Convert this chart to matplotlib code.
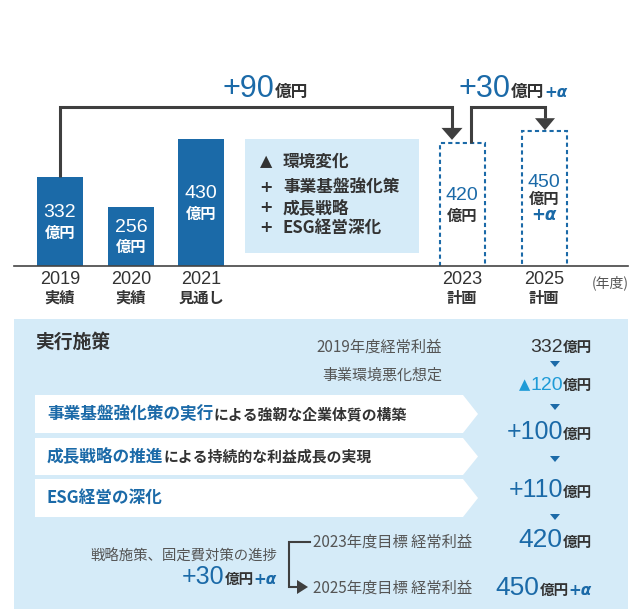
import matplotlib.pyplot as plt
from matplotlib.patches import Polygon, Rectangle
from matplotlib.offsetbox import TextArea, HPacker, AnnotationBbox

plt.rcParams['font.family'] = ['Noto Sans CJK JP', 'DejaVu Sans']

BLUE = '#1b6aa8'
CYAN = '#1e9bd7'
DARK = '#333333'
GRAY = '#555555'
LINE = '#3f3f3f'
LIGHT = '#d5ebf8'
NUM = 'Liberation Sans'

# --- data -------------------------------------------------------------
years = ['2019', '2020', '2021', '2023', '2025']
kinds = ['実績', '実績', '見通し', '計画', '計画']
profits = [332, 256, 430, 420, 450]
planned = [False, False, False, True, True]
bar_x = [60, 131, 201, 462, 544]

factor_signs = ['▲', '+', '+', '+']
factor_labels = ['環境変化', '事業基盤強化策', '成長戦略', 'ESG経営深化']

gain_2023 = 90
gain_2025 = 30

measures_blue = ['事業基盤強化策の実行', '成長戦略の推進', 'ESG経営の深化']
measures_rest = ['による強靭な企業体質の構築', 'による持続的な利益成長の実現', '']
env_drop = 120
step_gains = [100, 110]

# --- layout -----------------------------------------------------------
base = 103      # value at the baseline
k = 0.388       # pixels per value unit
fig = plt.figure(figsize=(6.3, 6.09), dpi=100)
ax = fig.add_axes([0, 343 / 609, 1, 266 / 609])
ax.set_xlim(0, 630)
ax.set_ylim(base, base + 266 / k)
ax.axis('off')

ov = fig.add_axes([0, 0, 1, 1], zorder=5)
ov.set_xlim(0, 630)
ov.set_ylim(609, 0)
ov.axis('off')
ov.patch.set_visible(False)


def rich(x, y, parts, ha='left'):
    areas = [TextArea(s, textprops=pr) for s, pr in parts]
    box = HPacker(children=areas, align='baseline', pad=0, sep=0)
    bx = {'left': 0, 'center': 0.5, 'right': 1}[ha]
    ab = AnnotationBbox(box, (x, y), xycoords='data', box_alignment=(bx, 0.5),
                        frameon=False, pad=0, annotation_clip=False)
    ov.add_artist(ab)


def p(size, color=DARK, weight='bold'):
    return dict(fontsize=size, color=color, fontweight=weight)


def num(size, color=BLUE):
    return dict(fontsize=size, color=color, family=NUM)


alpha = dict(fontsize=11, color=BLUE, fontweight='bold', style='italic', family='DejaVu Sans')

# --- bars -------------------------------------------------------------
for x, v, plan in zip(bar_x, profits, planned):
    if plan:
        ax.bar(x, v, width=45, fill=False, edgecolor=BLUE, linewidth=1.5,
               linestyle=(0, (2, 1.5)))
    else:
        ax.bar(x, v, width=46, color=BLUE)

for x, v, plan in zip(bar_x, profits, planned):
    mid = (base + v) / 2
    num_c = BLUE if plan else 'white'
    unit_c = DARK if plan else 'white'
    if v == 450:
        ax.annotate(str(v), (x, mid), xytext=(0, 11.5), textcoords='offset points',
                    ha='center', va='center', fontsize=14, color=num_c, family=NUM)
        ax.annotate('億円', (x, mid), xytext=(0, -0.5), textcoords='offset points',
                    ha='center', va='center', fontsize=11, color=unit_c, fontweight='bold')
        ax.annotate('+α', (x, mid), xytext=(0, -12), textcoords='offset points',
                    ha='center', va='center', fontsize=12, color=BLUE,
                    fontweight='bold', style='italic', family='DejaVu Sans')
    else:
        ax.annotate(str(v), (x, mid), xytext=(0, 6.5), textcoords='offset points',
                    ha='center', va='center', fontsize=14, color=num_c, family=NUM)
        ax.annotate('億円', (x, mid), xytext=(0, -8), textcoords='offset points',
                    ha='center', va='center', fontsize=11, color=unit_c, fontweight='bold')

# brackets
level = base + (266 - 107) / k
head_h = 12 / k


def bracket(x0, y0, x1, ytip, half=10.5):
    ax.plot([x0, x0, x1, x1], [y0, level, level, ytip + head_h], color=LINE, lw=2.2,
            solid_joinstyle='miter', solid_capstyle='butt')
    ax.add_patch(Polygon([[x1 - half, ytip + head_h], [x1 + half, ytip + head_h], [x1, ytip]],
                         closed=True, color=LINE, lw=0))


bracket(bar_x[0], profits[0], bar_x[3] - 10, profits[3] + 8)
bracket(bar_x[3] + 9, profits[3], bar_x[4] + 1, profits[4] + 3, half=10)

rich(223, 89, [('+%d' % gain_2023, num(22)), ('億円', p(12))])
rich(459, 89, [('+%d' % gain_2025, num(22)), ('億円', p(12)), ('+α', alpha)])

# baseline and x labels
ov.plot([14, 628], [266, 266], color='#444444', lw=1.2)
for x, yr, kd in zip(bar_x, years, kinds):
    ov.text(x, 280, yr, ha='center', va='center', fontsize=13, color=DARK, family=NUM)
    ov.text(x, 298, kd, ha='center', va='center', fontsize=11, color=DARK, fontweight='bold')
ov.text(629, 283, '(年度)', ha='right', va='center', fontsize=10, color=GRAY)

# factors box
ov.add_patch(Rectangle((245, 139), 174, 114, color=LIGHT, lw=0))
for yy, s, lab in zip([162, 188, 208, 228], factor_signs, factor_labels):
    ov.text(266, yy, s, ha='center', va='center', fontsize=11.5, color=DARK,
            fontweight='bold', family=['DejaVu Sans'])
    ov.text(283, yy, lab, ha='left', va='center', fontsize=12, color=DARK, fontweight='bold')

# --- bottom panel -----------------------------------------------------
ov.add_patch(Rectangle((14, 319), 614, 295, color=LIGHT, lw=0))
ov.text(35, 342, '実行施策', ha='left', va='center', fontsize=13.5, color=DARK, fontweight='bold')

for (top, bot), b, r in zip([(395, 433), (438, 475), (479, 517)], measures_blue, measures_rest):
    mid = (top + bot) / 2
    ov.add_patch(Polygon([[35, top], [463, top], [478, mid], [463, bot], [35, bot]],
                         closed=True, color='white', lw=0))
    parts = [(b, p(12, BLUE))]
    if r:
        parts.append((r, p(10.7)))
    rich(47, mid, parts)

# right column
ov.text(442, 347, str(years[0]) + '年度経常利益', ha='right', va='center', fontsize=11, color=GRAY)
ov.text(442, 376, '事業環境悪化想定', ha='right', va='center', fontsize=10.8, color=GRAY)
rich(592, 347, [(str(profits[0]), num(14, DARK)), ('億円', p(10.5))], 'right')
rich(592, 385, [('▲', dict(fontsize=10.5, color=CYAN, family='DejaVu Sans')),
                (str(env_drop), num(14, CYAN)), ('億円', p(10.5))], 'right')
for yy, g in zip([432, 490], step_gains):
    rich(592, yy, [('+%d' % g, num(18)), ('億円', p(10.5))], 'right')
rich(592, 540, [(str(profits[3]), num(19)), ('億円', p(10.5))], 'right')
rich(592, 588, [(str(profits[4]), num(19)), ('億円', p(10.5)), ('+α', alpha)], 'right')

for yy in [364, 407, 459, 517]:
    ov.add_patch(Polygon([[550, yy - 3], [560, yy - 3], [555, yy + 3]], closed=True, color=BLUE, lw=0))

# bottom left
ov.text(277, 557, '戦略施策、固定費対策の進捗', ha='right', va='center', fontsize=10.4, color=GRAY)
rich(277, 577, [('+%d' % gain_2025, num(18)), ('億円', p(10.5)), ('+α', alpha)], 'right')
ov.plot([310, 289, 289, 298], [542, 542, 587, 587], color=LINE, lw=1.5,
        solid_joinstyle='miter')
ov.add_patch(Polygon([[297, 580], [297, 594], [308, 587]], closed=True, color=LINE, lw=0))
ov.text(313, 542, years[3] + '年度目標 経常利益', ha='left', va='center', fontsize=11, color=GRAY)
ov.text(313, 588, years[4] + '年度目標 経常利益', ha='left', va='center', fontsize=11, color=GRAY)

fig.savefig('out.png', dpi=100)
